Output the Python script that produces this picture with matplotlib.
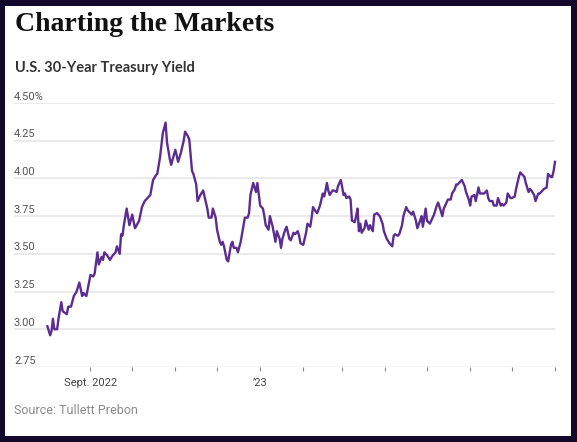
import pandas as pd
import matplotlib.pyplot as plt
import matplotlib.transforms as mtransforms

# U.S. 30-year Treasury yield
dates = [
    "2022-08-01", "2022-08-03", "2022-08-04", "2022-08-05", "2022-08-06", "2022-08-08",
    "2022-08-09", "2022-08-11", "2022-08-12", "2022-08-15", "2022-08-16", "2022-08-18",
    "2022-08-20", "2022-08-22", "2022-08-24", "2022-08-26", "2022-08-27", "2022-08-29",
    "2022-09-01", "2022-09-03", "2022-09-04", "2022-09-06", "2022-09-07", "2022-09-09",
    "2022-09-10", "2022-09-11", "2022-09-13", "2022-09-15", "2022-09-17", "2022-09-19",
    "2022-09-20", "2022-09-22", "2022-09-23", "2022-09-24", "2022-09-25", "2022-09-27",
    "2022-09-29", "2022-10-01", "2022-10-03", "2022-10-06", "2022-10-08", "2022-10-10",
    "2022-10-12", "2022-10-14", "2022-10-16", "2022-10-18", "2022-10-19", "2022-10-21",
    "2022-10-23", "2022-10-25", "2022-10-26", "2022-10-28", "2022-10-29", "2022-11-01",
    "2022-11-03", "2022-11-05", "2022-11-07", "2022-11-08", "2022-11-10", "2022-11-11",
    "2022-11-13", "2022-11-14", "2022-11-16", "2022-11-17", "2022-11-19", "2022-11-21",
    "2022-11-22", "2022-11-24", "2022-11-25", "2022-11-27", "2022-11-28", "2022-11-30",
    "2022-12-01", "2022-12-03", "2022-12-04", "2022-12-05", "2022-12-06", "2022-12-08",
    "2022-12-09", "2022-12-11", "2022-12-12", "2022-12-13", "2022-12-15", "2022-12-16",
    "2022-12-18", "2022-12-21", "2022-12-23", "2022-12-24", "2022-12-25", "2022-12-27",
    "2022-12-29", "2022-12-30", "2023-01-01", "2023-01-03", "2023-01-04", "2023-01-05",
    "2023-01-07", "2023-01-08", "2023-01-10", "2023-01-12", "2023-01-13", "2023-01-15",
    "2023-01-16", "2023-01-17", "2023-01-19", "2023-01-20", "2023-01-22", "2023-01-23",
    "2023-01-25", "2023-01-26", "2023-01-28", "2023-01-29", "2023-01-30", "2023-02-01",
    "2023-02-03", "2023-02-04", "2023-02-06", "2023-02-07", "2023-02-08", "2023-02-10",
    "2023-02-11", "2023-02-13", "2023-02-15", "2023-02-16", "2023-02-17", "2023-02-18",
    "2023-02-19", "2023-02-20", "2023-02-22", "2023-02-23", "2023-02-25", "2023-02-26",
    "2023-02-28", "2023-03-02", "2023-03-03", "2023-03-04", "2023-03-06", "2023-03-07",
    "2023-03-08", "2023-03-10", "2023-03-11", "2023-03-12", "2023-03-13", "2023-03-14",
    "2023-03-15", "2023-03-17", "2023-03-18", "2023-03-20", "2023-03-21", "2023-03-23",
    "2023-03-24", "2023-03-26", "2023-03-27", "2023-03-28", "2023-03-30", "2023-03-31",
    "2023-04-02", "2023-04-04", "2023-04-06", "2023-04-07", "2023-04-08", "2023-04-10",
    "2023-04-11", "2023-04-13", "2023-04-14", "2023-04-16", "2023-04-17", "2023-04-18",
    "2023-04-20", "2023-04-21", "2023-04-23", "2023-04-24", "2023-04-26", "2023-04-27",
    "2023-04-28", "2023-04-30", "2023-05-01", "2023-05-03", "2023-05-05", "2023-05-06",
    "2023-05-08", "2023-05-09", "2023-05-10", "2023-05-12", "2023-05-13", "2023-05-15",
    "2023-05-16", "2023-05-18", "2023-05-19", "2023-05-21", "2023-05-22", "2023-05-23",
    "2023-05-25", "2023-05-26", "2023-05-28", "2023-05-29", "2023-05-31", "2023-06-01",
    "2023-06-02", "2023-06-04", "2023-06-05", "2023-06-07", "2023-06-08", "2023-06-10",
    "2023-06-11", "2023-06-13", "2023-06-14", "2023-06-15", "2023-06-17", "2023-06-18",
    "2023-06-20", "2023-06-21", "2023-06-23", "2023-06-24", "2023-06-25", "2023-06-27",
    "2023-06-28", "2023-06-30", "2023-07-01", "2023-07-03", "2023-07-04", "2023-07-06",
    "2023-07-07", "2023-07-08", "2023-07-10", "2023-07-11", "2023-07-13", "2023-07-14",
    "2023-07-15", "2023-07-17", "2023-07-18", "2023-07-20", "2023-07-21", "2023-07-23",
    "2023-07-24", "2023-07-26", "2023-07-27", "2023-07-29", "2023-07-30", "2023-07-31",
    "2023-08-01",
]
yields = [
    3.02, 2.96, 2.99, 3.07, 3.00, 3.00,
    3.07, 3.18, 3.12, 3.10, 3.15, 3.15,
    3.22, 3.25, 3.31, 3.22, 3.24, 3.22,
    3.36, 3.35, 3.37, 3.51, 3.43, 3.48,
    3.46, 3.51, 3.49, 3.46, 3.49, 3.51,
    3.55, 3.50, 3.63, 3.62, 3.69, 3.80,
    3.69, 3.76, 3.67, 3.72, 3.81, 3.85,
    3.87, 3.89, 3.99, 4.02, 4.03, 4.14,
    4.30, 4.37, 4.24, 4.13, 4.09, 4.19,
    4.11, 4.17, 4.25, 4.31, 4.28, 4.26,
    4.05, 4.03, 3.96, 3.85, 3.89, 3.92,
    3.88, 3.80, 3.74, 3.74, 3.80, 3.74,
    3.66, 3.58, 3.56, 3.58, 3.55, 3.46,
    3.45, 3.56, 3.58, 3.54, 3.54, 3.51,
    3.58, 3.74, 3.74, 3.77, 3.89, 3.97,
    3.91, 3.97, 3.82, 3.80, 3.75, 3.69,
    3.66, 3.75, 3.68, 3.58, 3.65, 3.60,
    3.54, 3.60, 3.66, 3.68, 3.60, 3.59,
    3.64, 3.63, 3.65, 3.62, 3.57, 3.56,
    3.64, 3.70, 3.68, 3.74, 3.81, 3.78,
    3.77, 3.82, 3.90, 3.88, 3.92, 3.97,
    3.92, 3.89, 3.92, 3.92, 3.91, 3.95,
    3.99, 3.89, 3.90, 3.87, 3.88, 3.86,
    3.72, 3.71, 3.75, 3.80, 3.65, 3.70,
    3.64, 3.67, 3.72, 3.66, 3.69, 3.65,
    3.76, 3.77, 3.76, 3.75, 3.70, 3.65,
    3.60, 3.57, 3.55, 3.62, 3.63, 3.62,
    3.63, 3.69, 3.75, 3.81, 3.79, 3.78,
    3.76, 3.78, 3.72, 3.67, 3.72, 3.75,
    3.68, 3.80, 3.72, 3.70, 3.74, 3.76,
    3.82, 3.84, 3.81, 3.75, 3.80, 3.84,
    3.86, 3.86, 3.90, 3.93, 3.96, 3.96,
    3.98, 3.99, 3.95, 3.91, 3.86, 3.82,
    3.88, 3.89, 3.85, 3.94, 3.90, 3.90,
    3.90, 3.92, 3.87, 3.85, 3.85, 3.82,
    3.82, 3.87, 3.82, 3.83, 3.82, 3.84,
    3.90, 3.87, 3.87, 3.88, 3.93, 4.01,
    4.04, 4.03, 4.01, 3.97, 3.91, 3.93,
    3.92, 3.89, 3.85, 3.90, 3.90, 3.92,
    3.93, 3.94, 4.03, 4.01, 4.01, 4.05,
    4.11,
]

y_ticks = [2.75, 3.00, 3.25, 3.50, 3.75, 4.00, 4.25, 4.50]
month_ticks = pd.date_range("2022-09-01", "2023-08-01", freq="MS")
x_labels = {"2022-09-01": "Sept. 2022", "2023-01-01": "\u201923"}

title = "Charting the Markets"
subtitle = "U.S. 30-Year Treasury Yield"
source = "Source: Tullett Prebon"

border = "#13082b"
purple = "#5c2d91"
grid_col = "#e8e8e8"
text_col = "#555555"

W, H = 577, 442
fig = plt.figure(figsize=(W / 100, H / 100), dpi=100)
fig.patch.set_facecolor(border)

# white card inside the dark frame
card = plt.Rectangle((5 / W, 1 - 436 / H), (571 - 5) / W, (436 - 6) / H,
                     transform=fig.transFigure, facecolor="white",
                     edgecolor="none", zorder=-10)
fig.patches.append(card)

fig.text(15 / W, 1 - 31 / H, title, family="Liberation Serif", weight="bold",
         fontsize=20, color="#111111", va="baseline", ha="left")
fig.text(15 / W, 1 - 68 / H, subtitle, family="Lato", weight="bold",
         fontsize=10.5, color="#333333", va="center", ha="left")
fig.text(14 / W, 1 - 410 / H, source, family="Roboto", fontsize=9,
         color="#8a8a8a", va="center", ha="left")

ax = fig.add_axes([14 / W, 1 - 367 / H, (555 - 14) / W, (367 - 103) / H])
ax.set_facecolor("none")

x = pd.to_datetime(dates)
ax.plot(x, yields, color=purple, lw=1.7, solid_joinstyle="round", zorder=3,
        clip_on=False)

ax.set_xlim(pd.Timestamp("2022-07-08"), pd.Timestamp("2023-08-01"))
ax.set_ylim(y_ticks[0], y_ticks[-1])

for s in ax.spines.values():
    s.set_visible(False)

for v in y_ticks[1:]:
    ax.axhline(v, color=grid_col, lw=1.3, zorder=1)
ax.axhline(y_ticks[0], color="#cfcfcf", lw=1.0, zorder=1)

# y labels sit just above the gridlines, at the left edge
trans = mtransforms.blended_transform_factory(ax.transAxes, ax.transData)
for v in y_ticks:
    lab = f"{v:.2f}%" if v == y_ticks[-1] else f"{v:.2f}"
    ax.annotate(lab, (0, v), xycoords=trans, xytext=(0, 1),
                textcoords="offset points", ha="left", va="bottom",
                family="Roboto", fontsize=8, color=text_col)

ax.set_yticks([])
ax.set_xticks(month_ticks)
ax.set_xticklabels([x_labels.get(d.strftime("%Y-%m-%d"), "") for d in month_ticks],
                   family="Roboto", fontsize=8, color="#444444")
ax.tick_params(axis="x", length=3, width=0.8, color="#888888", pad=5)

fig.savefig("out.png", dpi=100, facecolor=fig.get_facecolor())
